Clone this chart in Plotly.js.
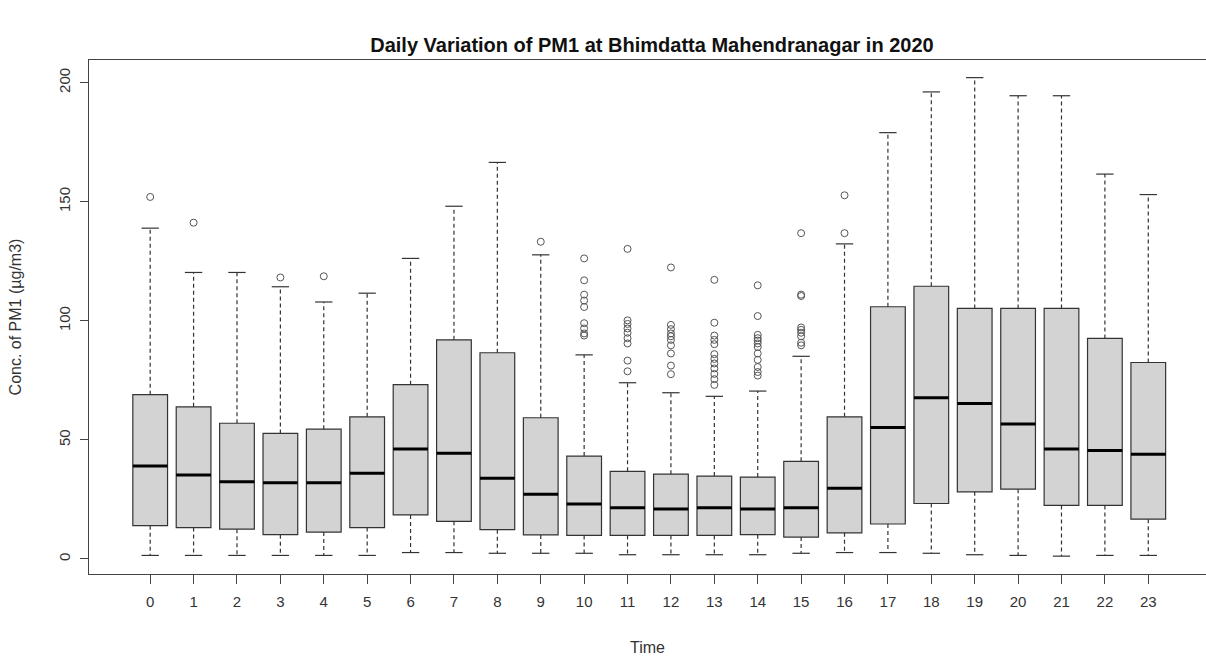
<!DOCTYPE html>
<html>
<head>
<meta charset="utf-8">
<script src="https://cdn.plot.ly/plotly-3.0.1.min.js"></script>
<style>html,body{margin:0;padding:0;background:#fff;}</style>
</head>
<body>
<div id="chart" style="width:1206px;height:656px;"></div>
<script>
// Hour of day (categories)
const hours = [0,1,2,3,4,5,6,7,8,9,10,11,12,13,14,15,16,17,18,19,20,21,22,23];
// Box statistics (PM1 µg/m3)
const q1Vals     = [14.0,13.2,12.5,10.2,11.3,13.2,18.5,15.8,12.3,10.1,9.9,9.9,9.9,9.9,10.2,9.2,11.0,14.7,23.3,28.2,29.3,22.5,22.5,16.7];
const medianVals = [39.0,35.3,32.4,32.0,32.0,36.0,46.2,44.4,33.9,27.2,23.1,21.5,21.0,21.5,21.0,21.5,29.7,55.2,67.7,65.3,56.7,46.2,45.5,44.0];
const q3Vals     = [69.0,63.9,57.0,52.7,54.5,59.7,73.2,92.0,86.6,59.3,43.2,36.8,35.6,34.8,34.4,41.0,59.7,105.9,114.5,105.2,105.2,105.2,92.6,82.5];
const lowerWhisk = [1.5,1.5,1.5,1.5,1.5,1.5,2.7,2.7,2.4,2.4,2.4,1.8,1.8,1.8,1.8,2.4,2.7,2.7,2.4,1.8,1.5,1.2,1.5,1.5];
const upperWhisk = [138.9,120.3,120.3,114.3,107.9,111.6,126.2,148.1,166.5,127.7,85.7,74.0,69.8,68.3,70.5,85.1,132.3,179.0,196.1,202.1,194.5,194.5,161.6,153.0];
// Outliers
const outlierHour = [0,1,3,4,9,
  10,10,10,10,10,10,10,10,10,
  11,11,11,11,11,11,11,11,11,
  12,12,12,12,12,12,12,12,12,12,
  13,13,13,13,13,13,13,13,13,13,13,13,
  14,14,14,14,14,14,14,14,14,14,14,14,
  15,15,15,15,15,15,15,15,15,
  16,16];
const outlierVal = [152.0,141.2,118.2,118.7,133.2,
  126.2,117.0,111.0,108.5,105.8,99.0,96.8,94.7,93.8,
  130.2,100.2,98.7,96.8,95.0,92.7,90.5,83.3,78.8,
  122.4,98.3,96.5,94.7,93.5,92.0,89.7,86.3,81.2,77.6,
  117.2,99.2,93.8,92.0,90.2,86.0,84.0,82.1,80.0,77.7,75.5,73.1,
  114.9,102.0,94.1,92.7,91.7,90.5,89.0,86.3,83.6,80.6,78.5,77.0,
  136.8,111.0,110.4,97.2,96.2,95.0,93.5,90.8,89.7,
  136.8,152.7];
const yTicks = [0,50,100,150,200];

const BOXW = 0.8, CAPW = 0.4;
const FONT = 'Liberation Sans, Arial, sans-serif';

// Dashed whiskers
const wx = [], wy = [];
hours.forEach((h,i) => {
  wx.push(h,h,null,h,h,null);
  wy.push(q3Vals[i],upperWhisk[i],null,q1Vals[i],lowerWhisk[i],null);
});
// Staples
const cx = [], cy = [];
hours.forEach((h,i) => {
  cx.push(h-CAPW/2,h+CAPW/2,null,h-CAPW/2,h+CAPW/2,null);
  cy.push(upperWhisk[i],upperWhisk[i],null,lowerWhisk[i],lowerWhisk[i],null);
});
// Thick medians
const mx = [], my = [];
hours.forEach((h,i) => {
  mx.push(h-BOXW/2,h+BOXW/2,null);
  my.push(medianVals[i],medianVals[i],null);
});

const data = [
  {type:'box', x:hours, q1:q1Vals, median:medianVals, q3:q3Vals,
   lowerfence:q1Vals, upperfence:q3Vals, width:BOXW, whiskerwidth:0,
   fillcolor:'#D3D3D3', line:{color:'#333333', width:1.2}, boxpoints:false,
   hoverinfo:'skip', showlegend:false},
  {type:'scatter', mode:'lines', x:wx, y:wy, line:{color:'#333333', width:1.2, dash:'4px,3px'},
   hoverinfo:'skip', showlegend:false},
  {type:'scatter', mode:'lines', x:cx, y:cy, line:{color:'#333333', width:1.2},
   hoverinfo:'skip', showlegend:false},
  {type:'scatter', mode:'lines', x:mx, y:my, line:{color:'#000000', width:3},
   hoverinfo:'skip', showlegend:false},
  {type:'scatter', mode:'markers', x:outlierHour, y:outlierVal,
   marker:{symbol:'circle-open', size:7, color:'#555555', line:{width:1, color:'#555555'}},
   hoverinfo:'skip', showlegend:false}
];

const layout = {
  width:1206, height:656,
  margin:{l:89, r:0, t:60, b:82},
  paper_bgcolor:'#ffffff', plot_bgcolor:'#ffffff',
  showlegend:false,
  font:{family:FONT, color:'#333333', size:15},
  title:{text:'Daily Variation of PM1 at Bhimdatta Mahendranagar in 2020',
    font:{family:FONT, size:20, weight:'bold', color:'#111111'},
    xref:'paper', x:0.504, xanchor:'center', yref:'container', y:1-45/656, yanchor:'middle'},
  xaxis:{range:[-1.41,24.33], tickmode:'array', tickvals:hours, ticktext:hours.map(String),
    ticks:'outside', ticklen:9, tickcolor:'#444444', tickwidth:1,
    showline:true, linecolor:'#444444', linewidth:1.2, mirror:true, ticklabelstandoff:5,
    showgrid:false, zeroline:false, tickfont:{family:FONT, size:15, color:'#333333'},
    title:{text:'Time', font:{family:FONT, size:16, color:'#333333'}, standoff:32}},
  yaxis:{range:[-6.3,209.5], tickmode:'array', tickvals:yTicks, ticktext:yTicks.map(String),
    tickangle:-90, ticks:'outside', ticklen:8, tickcolor:'#444444', tickwidth:1,
    showline:true, linecolor:'#444444', linewidth:1.2, mirror:false, ticklabelstandoff:4,
    showgrid:false, zeroline:false, tickfont:{family:FONT, size:15, color:'#333333'},
    title:{text:'Conc. of PM1 (µg/m3)', font:{family:FONT, size:16, color:'#333333'}, standoff:30}}
};

Plotly.newPlot('chart', data, layout, {displayModeBar:false, staticPlot:true});
</script>
</body>
</html>
